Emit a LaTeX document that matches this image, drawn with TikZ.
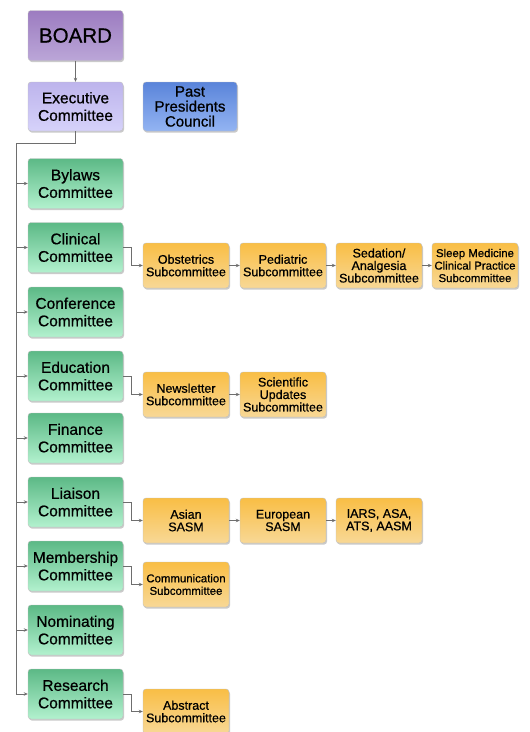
\documentclass[tikz,border=0pt]{standalone}
\usepackage{fontspec}
\setmainfont{Liberation Sans}[BoldFont=Liberation Sans, BoldFeatures={FakeBold=0.7}]
\usetikzlibrary{shadows,arrows.meta}

\definecolor{boardtop}{HTML}{9C7CC0}
\definecolor{boardbot}{HTML}{BBA6D8}
\definecolor{exectop}{HTML}{BDB4EC}
\definecolor{execbot}{HTML}{D6D2FA}
\definecolor{pasttop}{HTML}{5A84DA}
\definecolor{pastbot}{HTML}{93B4F2}
\definecolor{commtop}{HTML}{5CB986}
\definecolor{commbot}{HTML}{B2F1CE}
\definecolor{subtop}{HTML}{F9BE45}
\definecolor{subbot}{HTML}{F8D896}
\definecolor{linegray}{HTML}{6E6E6E}

\begin{document}
\begin{tikzpicture}[x=1pt, y=-1pt,
  box/.style = {rectangle, rounded corners=3pt, draw=black!25, line width=0.4pt, align=center, text=black, inner sep=0pt,
    drop shadow={shadow xshift=1pt, shadow yshift=-1.6pt, opacity=0.35, fill=black!60}},
  boardbox/.style = {box, minimum width=95pt, minimum height=50pt, top color=boardtop, bottom color=boardbot, font=\fontsize{20.5}{22}\selectfont\bfseries},
  execbox/.style = {box, minimum width=95pt, minimum height=49pt, top color=exectop, bottom color=execbot, font=\fontsize{15.5}{17.5}\selectfont\bfseries},
  pastbox/.style = {box, minimum width=94pt, minimum height=49pt, top color=pasttop, bottom color=pastbot, font=\fontsize{15}{15}\selectfont\bfseries},
  comm/.style = {box, minimum width=95pt, minimum height=50pt, top color=commtop, bottom color=commbot, font=\fontsize{15.5}{17.5}\selectfont\bfseries},
  sub/.style = {box, minimum width=86pt, minimum height=45pt, top color=subtop, bottom color=subbot, font=\fontsize{12.5}{12.5}\selectfont\bfseries},
  small/.style = {font=\fontsize{11.4}{12.5}\selectfont\bfseries},
  link/.style = {draw=linegray, line width=0.8pt},
  arr/.style = {link, -{Stealth[length=4pt, width=3.5pt]}}
]

\useasboundingbox (0,0) rectangle (530,732);

\node (board) [boardbox] at (75.5,35.5) {BOARD};
\node (exec) [execbox] at (75.5,106.5) {Executive\\Committee};
\node (past) [pastbox] at (190,106.5) {Past\\Presidents\\Council};

\node (bylaws) [comm] at (75.5,183.5) {Bylaws\\Committee};
\node (clinical) [comm] at (75.5,247.5) {Clinical\\Committee};
\node (conference) [comm] at (75.5,312) {Conference\\Committee};
\node (education) [comm] at (75.5,376) {Education\\Committee};
\node (finance) [comm] at (75.5,438) {Finance\\Committee};
\node (liaison) [comm] at (75.5,502) {Liaison\\Committee};
\node (membership) [comm] at (75.5,566) {Membership\\Committee};
\node (nominating) [comm] at (75.5,630) {Nominating\\Committee};
\node (research) [comm] at (75.5,694) {Research\\Committee};

\node (obstetrics) [sub] at (186,265.5) {Obstetrics\\Subcommittee};
\node (pediatric) [sub] at (283,265.5) {Pediatric\\Subcommittee};
\node (sedation) [sub] at (379,265.5) {Sedation/\\Analgesia\\Subcommittee};
\node (sleep) [sub, small] at (475,265.5) {Sleep Medicine\\Clinical Practice\\Subcommittee};

\node (newsletter) [sub] at (186,394.5) {Newsletter\\Subcommittee};
\node (scientific) [sub] at (283,394.5) {Scientific\\Updates\\Subcommittee};

\node (asian) [sub] at (186,520.5) {Asian\\SASM};
\node (european) [sub] at (283,520.5) {European\\SASM};
\node (iars) [sub] at (379,520.5) {IARS, ASA,\\ATS, AASM};

\node (communication) [sub, small] at (186,584.5) {Communication\\Subcommittee};

\node (abstract) [sub] at (186,711.5) {Abstract\\Subcommittee};

\coordinate (trunk) at (16,143);

\draw [arr] (board) -- (exec);
\draw [link] (exec.south) |- (trunk) -- (trunk |- research.west);
\foreach \c in {bylaws,clinical,conference,education,finance,liaison,membership,nominating,research}
  \draw [arr] (trunk |- \c.west) -- (\c.west);

\draw [arr] (clinical.east) -- ++(8,0) |- (obstetrics.west);
\draw [arr] (obstetrics) -- (pediatric);
\draw [arr] (pediatric) -- (sedation);
\draw [arr] (sedation) -- (sleep);

\draw [arr] (education.east) -- ++(8,0) |- (newsletter.west);
\draw [arr] (newsletter) -- (scientific);

\draw [arr] (liaison.east) -- ++(8,0) |- (asian.west);
\draw [arr] (asian) -- (european);
\draw [arr] (european) -- (iars);

\draw [arr] (membership.east) -- ++(8,0) |- (communication.west);

\draw [arr] (research.east) -- ++(8,0) |- (abstract.west);

\end{tikzpicture}
\end{document}
